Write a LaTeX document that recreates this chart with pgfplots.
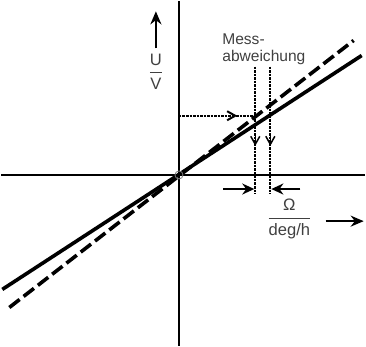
\documentclass[border=0pt]{standalone}
\usepackage{amsmath}
\usepackage{fontspec}
\setmainfont{Liberation Sans}
\usepackage{pgfplots}
\pgfplotsset{compat=1.18}
\usetikzlibrary{arrows.meta}
\definecolor{txtgray}{RGB}{64,64,64}

\begin{document}
\begin{tikzpicture}
\begin{axis}[
    width=366pt, height=348pt,
    scale only axis,
    xmin=-181, xmax=185,
    ymin=-172, ymax=176,
    axis lines=none,
    clip=false,
]
% axes
\addplot[black, line width=2.6pt] coordinates {(-177,0) (185,0)};
\addplot[black, line width=2.6pt] coordinates {(0,-170) (0,173)};
% characteristic lines
\addplot[black, line width=3.6pt] coordinates {(-176,-114) (182,119)};
\addplot[black, line width=3.6pt, dash pattern=on 13pt off 5pt] coordinates {(-169,-132) (174,134)};
% origin circle
\addplot[only marks, mark=o, mark size=4pt, gray, line width=0.8pt] coordinates {(0,0)};
% dotted guide lines
\addplot[black, line width=2pt, dash pattern=on 2.5pt off 1pt, -{Straight Barb[length=8pt,width=9pt]}] coordinates {(0,59) (58,59)};
\addplot[black, line width=2pt, dash pattern=on 2.5pt off 1pt] coordinates {(57,59) (76,59)};
\addplot[black, line width=2pt, dash pattern=on 2.5pt off 1pt] coordinates {(76,108) (76,-19)};
\addplot[black, line width=2pt, dash pattern=on 2.5pt off 1pt] coordinates {(91,108) (91,-19)};
\addplot[black, line width=1.5pt, -{Straight Barb[length=8pt,width=9pt]}] coordinates {(76,40) (76,29)};
\addplot[black, line width=1.5pt, -{Straight Barb[length=8pt,width=9pt]}] coordinates {(91,40) (91,29)};
% deviation arrows
\addplot[black, line width=1.8pt, -{Stealth[length=12pt,width=11pt]}] coordinates {(44,-14) (75,-14)};
\addplot[black, line width=1.8pt, -{Stealth[length=12pt,width=11pt]}] coordinates {(121,-14) (92,-14)};
% axis label arrows
\addplot[black, line width=1.8pt, -{Stealth[length=13pt,width=11pt]}] coordinates {(-23,126) (-23,163)};
\addplot[black, line width=1.8pt, -{Stealth[length=13pt,width=11pt]}] coordinates {(146,-46) (184,-46)};
% labels
\node[anchor=north west, align=left, inner sep=0pt, text=txtgray, font=\fontsize{15.5}{17}\selectfont]
    at (axis cs:43,141) {Mess-\\abweichung};
\node[text=txtgray, inner sep=0pt, font=\fontsize{16.5}{18}\selectfont]
    at (axis cs:-23,103) {$\genfrac{}{}{1.5pt}{0}{\text{U}}{\text{V}}$};
\node[text=txtgray, inner sep=0pt, font=\fontsize{16.5}{18}\selectfont]
    at (axis cs:110,-44) {$\genfrac{}{}{1.5pt}{0}{\text{Ω}}{\text{deg/h}}$};
\end{axis}
\end{tikzpicture}
\end{document}
